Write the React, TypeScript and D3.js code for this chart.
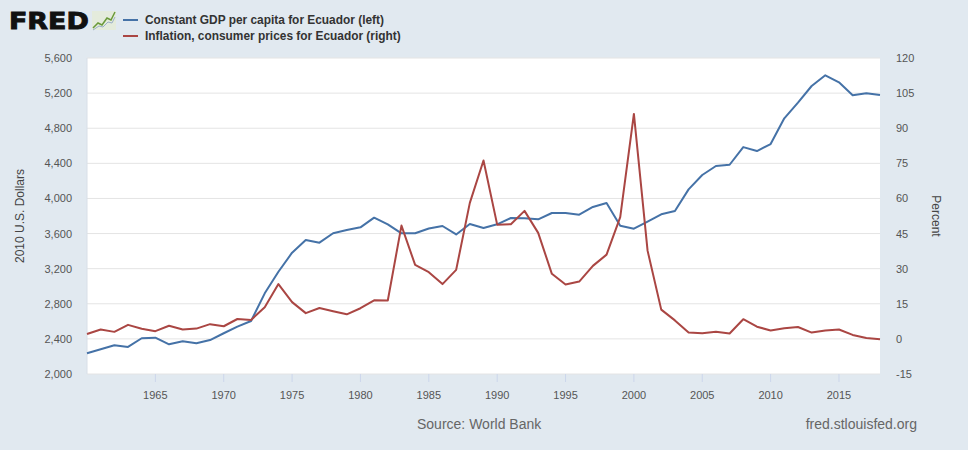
import React from "react";
import * as d3 from "d3";

const years: number[] = d3.range(1960, 2019);
const gdp: number[] = [
  2236, 2281, 2327, 2308, 2407, 2414, 2338, 2372, 2350, 2387,
  2464, 2539, 2604, 2919, 3165, 3382, 3527, 3496, 3603, 3640,
  3671, 3781, 3705, 3603, 3603, 3657, 3686, 3590, 3709, 3663,
  3705, 3777, 3773, 3762, 3834, 3834, 3815, 3903, 3948, 3690,
  3655, 3735, 3819, 3856, 4103, 4267, 4370, 4384, 4585, 4540,
  4620, 4913, 5091, 5281, 5403, 5323, 5175, 5198, 5178,
];
const inflation: number[] = [
  2.1, 4.0, 3.0, 6.0, 4.3, 3.3, 5.6, 4.0, 4.4, 6.3,
  5.4, 8.5, 8.1, 13.5, 23.4, 15.7, 11.0, 13.2, 11.8, 10.5,
  13.1, 16.5, 16.4, 48.4, 31.6, 28.5, 23.4, 29.5, 58.1, 76.2,
  48.8, 49.0, 54.7, 45.3, 27.8, 23.2, 24.5, 31.2, 36.0, 52.0,
  96.1, 37.7, 12.5, 7.9, 2.7, 2.4, 3.0, 2.3, 8.4, 5.2,
  3.6, 4.5, 5.1, 2.7, 3.6, 4.0, 1.7, 0.4, -0.2,
];
const leftTicks: number[] = [2000, 2400, 2800, 3200, 3600, 4000, 4400, 4800, 5200, 5600];
const rightTicks: number[] = [-15, 0, 15, 30, 45, 60, 75, 90, 105, 120];
const xTicks: number[] = [1965, 1970, 1975, 1980, 1985, 1990, 1995, 2000, 2005, 2010, 2015];
const seriesNames: string[] = [
  "Constant GDP per capita for Ecuador (left)",
  "Inflation, consumer prices for Ecuador (right)",
];
const colors = ["#4572a7", "#aa4643"];

export default function App() {
  const W = 968, H = 450;
  const L = 87, R = 880, T = 58, B = 374;
  const x = d3.scaleLinear().domain([1960, 2018]).range([L, R]);
  const yL = d3.scaleLinear().domain([2000, 5600]).range([B, T]);
  const yR = d3.scaleLinear().domain([-15, 120]).range([B, T]);
  const lineL = d3.line<number>().x((_, i) => x(years[i])).y((d) => yL(d));
  const lineR = d3.line<number>().x((_, i) => x(years[i])).y((d) => yR(d));
  const fmt = d3.format(",");
  const font = "'Liberation Sans', Arial, sans-serif";
  return (
    <svg width={W} height={H} style={{ display: "block", position: "absolute", left: 0, top: 0 }} fontFamily={font}>
      <rect x={0} y={0} width={W} height={H} fill="#e1e9f0" />
      {/* logo */}
      <text transform="translate(9,29) scale(1.17,1)" x={0} y={0} fontSize={23} fontWeight={900} fill="#111" stroke="#111" strokeWidth={0.9} style={{ fontFamily: "'DejaVu Sans', Arial, sans-serif" }}>FRED</text>
      <rect x={92} y={11} width={24} height={19} fill="#e4ebdc" />
      <polyline points="93,28 98,23 102,25 107,18 111,20 115,12" fill="none" stroke="#6a9a3a" strokeWidth={1.5} />
      <polyline points="93,30 99,26 103,27 108,22 112,23 115,17" fill="none" stroke="#9ab0c8" strokeWidth={1} />
      {/* legend */}
      {seriesNames.map((n, i) => (
        <g key={n}>
          <line x1={123} x2={138} y1={20 + i * 16} y2={20 + i * 16} stroke={colors[i]} strokeWidth={2} />
          <text x={145} y={24 + i * 16} fontSize={11.9} fontWeight="bold" fill="#333">{n}</text>
        </g>
      ))}
      <rect x={L} y={T} width={R - L} height={B - T} fill="#ffffff" />
      {leftTicks.map((t) => (
        <line key={"g" + t} x1={L} x2={R} y1={yL(t)} y2={yL(t)} stroke="#e4e4e4" strokeWidth={1} />
      ))}
      {xTicks.map((t) => (
        <line key={"xt" + t} x1={x(t)} x2={x(t)} y1={B} y2={B + 8} stroke="#ccd6eb" strokeWidth={1} />
      ))}
      <line x1={L} x2={L} y1={T} y2={B} stroke="#d8dfe8" strokeWidth={1} />
      <path d={lineL(gdp) || ""} fill="none" stroke={colors[0]} strokeWidth={2} strokeLinejoin="round" />
      <path d={lineR(inflation) || ""} fill="none" stroke={colors[1]} strokeWidth={2} strokeLinejoin="round" />
      {leftTicks.map((t) => (
        <text key={"lt" + t} x={72} y={yL(t) + 4} fontSize={11} fill="#555" textAnchor="end">{fmt(t)}</text>
      ))}
      {rightTicks.map((t) => (
        <text key={"rt" + t} x={896} y={yR(t) + 4} fontSize={11} fill="#555" textAnchor="start">{t}</text>
      ))}
      {xTicks.map((t) => (
        <text key={"xl" + t} x={x(t)} y={399} fontSize={11} fill="#555" textAnchor="middle">{t}</text>
      ))}
      <text transform={`translate(24,${(T + B) / 2}) rotate(-90)`} fontSize={12} fill="#444" textAnchor="middle">2010 U.S. Dollars</text>
      <text transform={`translate(932,${(T + B) / 2}) rotate(90)`} fontSize={12} fill="#444" textAnchor="middle">Percent</text>
      <text x={417} y={429} fontSize={14} fill="#666">Source: World Bank</text>
      <text x={917} y={429} fontSize={14} fill="#666" textAnchor="end">fred.stlouisfed.org</text>
    </svg>
  );
}
